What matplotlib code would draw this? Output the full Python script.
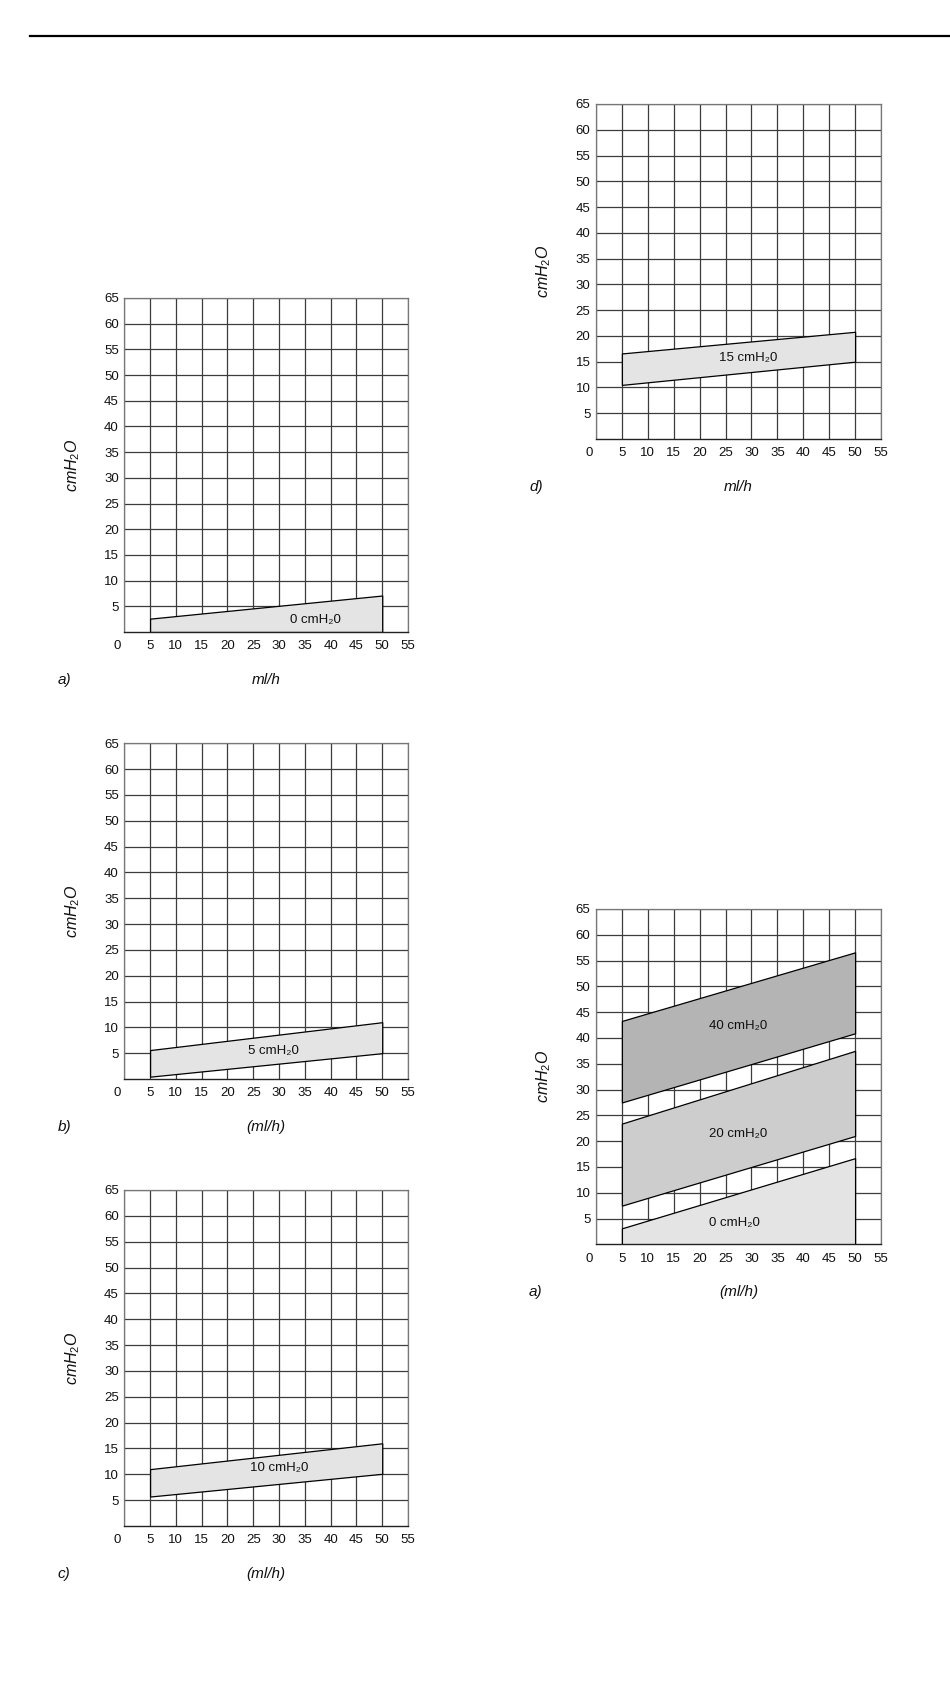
import matplotlib
matplotlib.use('Agg')
import matplotlib.pyplot as plt
import matplotlib.transforms as mtransforms
from matplotlib.lines import Line2D

plt.rcParams['font.family'] = ['Liberation Sans', 'DejaVu Sans']
plt.rcParams['mathtext.fontset'] = 'custom'
plt.rcParams['mathtext.it'] = 'Liberation Sans:italic'
plt.rcParams['mathtext.rm'] = 'Liberation Sans'

#------------------------------------------------------------------------------
# data (ml/h on x, cmH2O on y)
x_ends = [5, 50]
x_ticks = [0, 5, 10, 15, 20, 25, 30, 35, 40, 45, 50, 55]
y_ticks = [5, 10, 15, 20, 25, 30, 35, 40, 45, 50, 55, 60, 65]

# a) 0 cmH2O
band_a_low = [0, 0]
band_a_high = [2.6, 7.1]
# b) 5 cmH2O
band_b_low = [0.45, 5.0]
band_b_high = [5.6, 11.0]
# c) 10 cmH2O
band_c_low = [5.7, 10.1]
band_c_high = [11.0, 16.0]
# d) 15 cmH2O
band_d_low = [10.5, 15.0]
band_d_high = [16.6, 20.8]
# combined panel: 0 / 20 / 40 cmH2O
band_e0_low = [0, 0]
band_e0_high = [3.1, 16.7]
band_e20_low = [7.5, 21.0]
band_e20_high = [23.4, 37.5]
band_e40_low = [27.5, 40.9]
band_e40_high = [43.3, 56.6]

W, H = 950, 1684

#------------------------------------------------------------------------------
"""
draw one grid panel with its bands

Args:
    rect: (left, top, right, bottom) in pixels
    bands: list of (low, high, colour, label, label_x, label_y)
    letter: panel letter
    xlabel: x axis title
"""
def DrawPanel(fig, rect, bands, letter, xlabel):

    left, top, right, bottom = rect
    ax = fig.add_axes([left/W, 1-bottom/H, (right-left)/W, (bottom-top)/H])
    ax.set_xlim(0, 55)
    ax.set_ylim(0, 65)

    ax.set_xticks(x_ticks)
    ax.set_yticks(y_ticks)
    ax.set_xticklabels([str(v) for v in x_ticks], fontsize=9.5)
    ax.set_yticklabels([str(v) for v in y_ticks], fontsize=9.5)
    ax.tick_params(length=0, colors='#111111')
    ax.tick_params(axis='x', pad=6)
    ax.tick_params(axis='y', pad=4)

    #shift the corner "0" a little to the left
    first = ax.get_xticklabels()[0]
    first.set_transform(first.get_transform() +
                        mtransforms.ScaledTranslation(-0.07, 0, fig.dpi_scale_trans))

    ax.grid(True, color='#3c3c3c', linewidth=0.9)
    ax.set_axisbelow(True)
    for side in ['left', 'right', 'top']:
        ax.spines[side].set_color('#777777')
        ax.spines[side].set_linewidth(0.9)
    ax.spines['bottom'].set_color('#222222')
    ax.spines['bottom'].set_linewidth(1.0)

    for low, high, colour, text, tx, ty in bands:
        ax.fill_between(x_ends, low, high, facecolor=colour,
                        edgecolor='black', linewidth=0.9, zorder=2)
        ax.text(tx, ty, text, ha='center', va='center', fontsize=9.5,
                color='#111111', zorder=3)

    #axis titles
    w = right-left
    h = bottom-top
    ax.text(-52/w, 0.5, r'$cmH_2O$', transform=ax.transAxes, rotation=90,
            ha='center', va='center', fontsize=11.5, color='#111111')
    ax.text(0.5, -48/h, xlabel, transform=ax.transAxes, ha='center',
            va='center', fontsize=11, style='italic', color='#111111')
    ax.text(-67/w, -48/h, letter, transform=ax.transAxes,
            ha='left', va='center', fontsize=11, style='italic', color='#111111')

    return ax

#------------------------------------------------------------------------------
fig = plt.figure(figsize=(9.5, 16.84), dpi=100)

#header rule
fig.add_artist(Line2D([30/W, 1], [1-35.7/H, 1-35.7/H], color='black', linewidth=1.6))

light = '#e4e4e4'

DrawPanel(fig, (124.3, 298, 408, 632),
          [(band_a_low, band_a_high, light, '0 cmH₂0', 37, 2.3)], 'a)', 'ml/h')

DrawPanel(fig, (124.3, 743.3, 408, 1079),
          [(band_b_low, band_b_high, light, '5 cmH₂0', 29, 5.4)], 'b)', '(ml/h)')

DrawPanel(fig, (124.3, 1190, 408, 1526),
          [(band_c_low, band_c_high, light, '10 cmH₂0', 30, 11.2)], 'c)', '(ml/h)')

DrawPanel(fig, (596, 104, 881, 439),
          [(band_d_low, band_d_high, light, '15 cmH₂0', 29.3, 15.7)], 'd)', 'ml/h')

DrawPanel(fig, (596, 909, 881, 1244.3),
          [(band_e40_low, band_e40_high, '#b4b4b4', '40 cmH₂0', 27.4, 42.3),
           (band_e20_low, band_e20_high, '#cdcdcd', '20 cmH₂0', 27.4, 21.3),
           (band_e0_low, band_e0_high, light, '0 cmH₂0', 26.8, 4.1)], 'a)', '(ml/h)')

plt.savefig('out.png', dpi=100)
plt.close()
